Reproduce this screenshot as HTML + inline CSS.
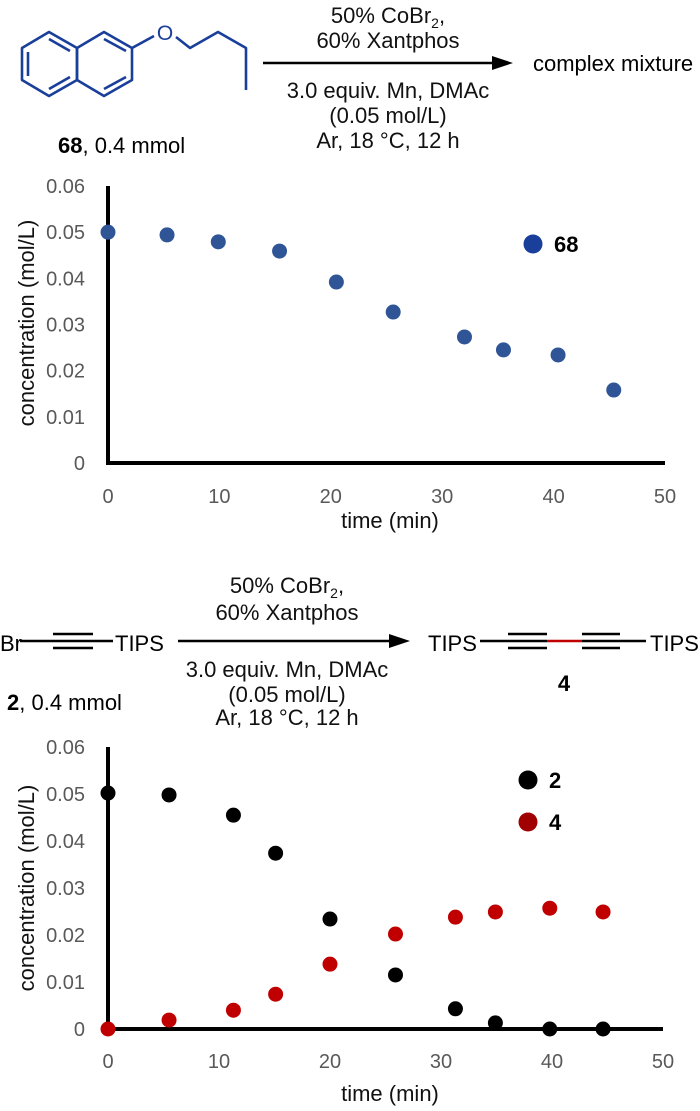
<!DOCTYPE html>
<html><head><meta charset="utf-8"><style>
html,body{margin:0;padding:0;background:#fff}
svg{display:block;font-family:"Liberation Sans",Arial,sans-serif}
</style></head><body>
<svg id="root" width="700" height="1111" viewBox="0 0 700 1111">
<g>
  <g stroke="#1a3f9a" stroke-width="2.6" fill="none" stroke-linejoin="round">
    <polygon points="22,48 49,32 77,48 77,80 49,96 22,80"/>
    <polygon points="77,48 104,32 132,48 132,80 104,96 77,80"/>
    <line x1="28" y1="52" x2="28" y2="76"/>
    <line x1="49" y1="39" x2="70" y2="51"/>
    <line x1="49" y1="89" x2="70" y2="77"/>
    <line x1="104" y1="39" x2="126" y2="51"/>
    <line x1="104" y1="89" x2="126" y2="77"/>
    <line x1="132" y1="48" x2="154" y2="36"/>
    <polyline points="176,37 190,48 218,32 246,48 246,90"/>
  </g>
  <text x="165" y="40" font-size="21" fill="#1a3f9a" text-anchor="middle">O</text>
  <text x="58" y="153" font-size="22"><tspan font-weight="bold">68</tspan>, 0.4 mmol</text>
  <g font-size="22" fill="#111" text-anchor="middle">
    <text x="388" y="23">50% CoBr<tspan font-size="14" dy="5">2</tspan><tspan dy="-5">,</tspan></text>
    <text x="388" y="48">60% Xantphos</text>
    <text x="388" y="98">3.0 equiv. Mn, DMAc</text>
    <text x="388" y="123">(0.05 mol/L)</text>
    <text x="388" y="148">Ar, 18 °C, 12 h</text>
  </g>
  <line x1="263" y1="63" x2="498" y2="63" stroke="#000" stroke-width="2.4"/>
  <polygon points="513,63 492,56 492,70" fill="#000"/>
  <text x="533" y="71" font-size="22">complex mixture</text>
</g>

<g>
  <text x="0" y="651" font-size="22">Br</text>
  <g stroke="#000" stroke-width="2.4">
    <line x1="20" y1="641" x2="113" y2="641"/>
    <line x1="53" y1="634" x2="93" y2="634"/>
    <line x1="53" y1="648" x2="93" y2="648"/>
  </g>
  <text x="115" y="651" font-size="22">TIPS</text>
  <text x="7" y="710" font-size="22"><tspan font-weight="bold">2</tspan>, 0.4 mmol</text>
  <g font-size="22" fill="#111" text-anchor="middle">
    <text x="287" y="593">50% CoBr<tspan font-size="14" dy="5">2</tspan><tspan dy="-5">,</tspan></text>
    <text x="287" y="620">60% Xantphos</text>
    <text x="287" y="677">3.0 equiv. Mn, DMAc</text>
    <text x="287" y="702">(0.05 mol/L)</text>
    <text x="287" y="725">Ar, 18 °C, 12 h</text>
  </g>
  <line x1="178" y1="641" x2="395" y2="641" stroke="#000" stroke-width="2.4"/>
  <polygon points="410,641 389,634 389,648" fill="#000"/>
  <text x="428" y="651" font-size="22">TIPS</text>
  <g stroke="#000" stroke-width="2.4">
    <line x1="480" y1="641" x2="547" y2="641"/>
    <line x1="508" y1="634" x2="547" y2="634"/>
    <line x1="508" y1="648" x2="547" y2="648"/>
    <line x1="582" y1="641" x2="646" y2="641"/>
    <line x1="582" y1="634" x2="620" y2="634"/>
    <line x1="582" y1="648" x2="620" y2="648"/>
    <line x1="547" y1="641" x2="582" y2="641" stroke="#c00000"/>
  </g>
  <text x="650" y="651" font-size="22">TIPS</text>
  <text x="564" y="691" font-size="22" font-weight="bold" text-anchor="middle">4</text>
</g>
<g id="chart1"></g>
<g id="chart2"></g>
</svg>
<script>
const times68 = [0, 5.3, 9.9, 15.4, 20.5, 25.6, 32, 35.5, 40.4, 45.4];
const conc68 = [0.050, 0.0494, 0.0479, 0.0459, 0.0392, 0.0327, 0.0273, 0.0245, 0.0234, 0.0158];
const times2 = [0, 5.5, 11.3, 15.1, 20, 25.9, 31.3, 34.9, 39.8, 44.6];
const conc2 = [0.0502, 0.0498, 0.0455, 0.0374, 0.0234, 0.0115, 0.0043, 0.0013, 0, 0];
const conc4 = [0, 0.0019, 0.004, 0.0074, 0.0138, 0.0202, 0.0238, 0.0249, 0.0257, 0.0249];
const yTicks = ["0", "0.01", "0.02", "0.03", "0.04", "0.05", "0.06"];
const xTicks = ["0", "10", "20", "30", "40", "50"];
const NS = "http://www.w3.org/2000/svg";
function mk(parent, tag, attrs, txt) {
  const e = document.createElementNS(NS, tag);
  for (const k in attrs) e.setAttribute(k, attrs[k]);
  if (txt !== undefined) e.textContent = txt;
  parent.appendChild(e);
  return e;
}
function chart(gid, x0, x1, yTop, yBot, xLabY, titleY, titleCy, series, legend) {
  const g = document.getElementById(gid);
  const xs = v => x0 + (x1 - x0) * v / 50;
  const ys = v => yBot - (yBot - yTop) * v / 0.06;
  yTicks.forEach(t => {
    const e = mk(g, "text", {x: 85, y: ys(parseFloat(t)) + 7, "font-size": 20, fill: "#595959", "text-anchor": "end"}, t);
    
    
  });
  xTicks.forEach(t => {
    const e = mk(g, "text", {x: xs(parseFloat(t)), y: xLabY, "font-size": 20, fill: "#595959", "text-anchor": "middle"}, t);
    
    
  });
  const ya = mk(g, "line", {x1: x0, y1: yTop, x2: x0, y2: yBot + 2, stroke: "#000", "stroke-width": 4});
  
  
  const xa = mk(g, "line", {x1: x0 - 2, y1: yBot, x2: x1, y2: yBot, stroke: "#000", "stroke-width": 4});
  
  
  const yt = mk(g, "text", {x: 0, y: 0, "font-size": 22, fill: "#111", "text-anchor": "middle", transform: "translate(34," + titleCy + ") rotate(-90)"}, "concentration (mol/L)");
  
  
  const xt = mk(g, "text", {x: 390, y: titleY, "font-size": 22, fill: "#111", "text-anchor": "middle"}, "time (min)");
  
  
  series.forEach(s => {
    s.t.forEach((t, i) => {
      const c = mk(g, "circle", {cx: xs(t), cy: ys(s.v[i]), r: 7.5, fill: s.color});
      
      
    });
  });
  legend.forEach(l => {
    const c = mk(g, "circle", {cx: l.x, cy: l.y, r: 9.5, fill: l.color});
    
    
    const t = mk(g, "text", {x: l.x + 21, y: l.y + 8, "font-size": 22, "font-weight": "bold"}, l.label);
    
    
  });
}
chart("chart1", 108, 665, 186, 463, 503, 528, 323,
  [{t: times68, v: conc68, color: "#2f5597", name: "compound-68"}],
  [{x: 533, y: 244, color: "#1a3f9a", label: "68"}]);
chart("chart2", 108, 663, 747, 1029, 1068, 1101, 888,
  [{t: times2, v: conc2, color: "#000", name: "compound-2"},
   {t: times2, v: conc4, color: "#c00000", name: "compound-4"}],
  [{x: 528, y: 780, color: "#000", label: "2"}, {x: 528, y: 822, color: "#a00000", label: "4"}]);
</script>
</body></html>
